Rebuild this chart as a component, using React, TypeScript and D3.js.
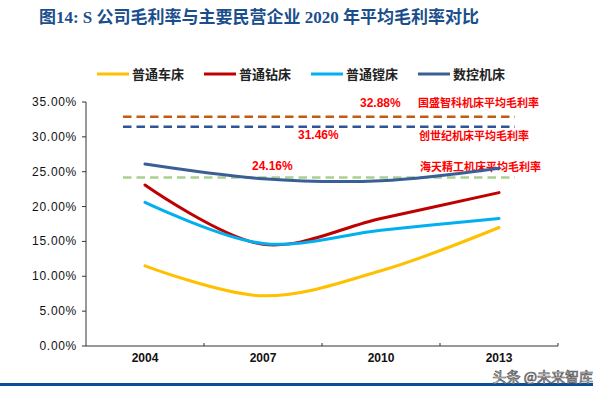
import React from 'react';
import * as d3 from 'd3';

const years = ['2004', '2007', '2010', '2013'];
const seriesNames = ['普通车床', '普通钻床', '普通镗床', '数控机床'];
const seriesColors = ['#FFC000', '#C00000', '#00B0F0', '#3A5F96'];
const lathe = [11.5, 7.2, 10.8, 17.0];
const drill = [23.1, 14.6, 18.3, 22.0];
const boring = [20.6, 14.7, 16.6, 18.3];
const cnc = [26.1, 24.0, 23.7, 25.5];
const seriesValues = [lathe, drill, boring, cnc];

const refValues = [32.88, 31.46, 24.16];
const refColors = ['#C55A11', '#2F5597', '#A9D18E'];
const refNames = ['国盛智科机床平均毛利率', '创世纪机床平均毛利率', '海天精工机床平均毛利率'];
const refValueLabels = ['32.88%', '31.46%', '24.16%'];
const yTicks = [0, 5, 10, 15, 20, 25, 30, 35];

export default function App() {
  const W = 606, H = 396;
  const x0 = 86, x1 = 558, yTop = 102, yBot = 346;
  const x = d3.scaleBand().domain(years).range([x0, x1]);
  const y = d3.scaleLinear().domain([0, 35]).range([yBot, yTop]);
  const cx = (yr: string) => (x(yr) as number) + x.bandwidth() / 2;
  const line = d3.line<number>()
    .x((_, i) => cx(years[i]))
    .y((v) => y(v))
    .curve(d3.curveCatmullRom.alpha(0.5));
  const fmt = (v: number) => v.toFixed(2) + '%';
  const refX0 = 123, refX1 = 515;
  const refLabelX = [360, 298, 252];
  const refLabelDy = [-10, 12, -8];
  const refNameX = [418, 419, 420];
  const refNameDy = [-10, 13, -7];
  const legendX = [97, 204, 311, 418];

  return (
    <svg width={W} height={H} style={{ position: 'absolute', left: 0, top: 0, background: '#fff' }}
      fontFamily="'Liberation Sans', Arial, sans-serif">
      <rect width={W} height={H} fill="#fff" />
      <text x={259} y={23} textAnchor="middle" fontSize={17} fontWeight="bold" fill="#1A4E8C"
        fontFamily="'Liberation Serif', 'Noto Sans CJK SC', serif">图14: S 公司毛利率与主要民营企业 2020 年平均毛利率对比</text>

      {seriesNames.map((n, i) => (
        <g key={n}>
          <line x1={legendX[i]} x2={legendX[i] + 32} y1={74} y2={74} stroke={seriesColors[i]} strokeWidth={3} />
          <text x={legendX[i] + 35} y={79} fontSize={13} fontWeight="bold" fill="#222"
            fontFamily="'Noto Sans CJK SC', sans-serif">{n}</text>
        </g>
      ))}

      {/* y axis */}
      <line x1={x0} x2={x0} y1={yTop} y2={yBot} stroke="#333" strokeWidth={1} />
      {yTicks.map((t) => (
        <g key={t}>
          <line x1={x0 - 4} x2={x0} y1={y(t)} y2={y(t)} stroke="#333" />
          <text x={x0 - 9} y={y(t) + 4} textAnchor="end" fontSize={12} fill="#111" letterSpacing={0.7}>{fmt(t)}</text>
        </g>
      ))}
      {/* x axis */}
      <line x1={x0} x2={x1} y1={yBot} y2={yBot} stroke="#333" strokeWidth={1} />
      {years.map((yr) => (
        <g key={yr}>
          <line x1={(x(yr) as number) + x.bandwidth()} x2={(x(yr) as number) + x.bandwidth()} y1={yBot} y2={yBot - 3} stroke="#333" />
          <text x={cx(yr)} y={362} textAnchor="middle" fontSize={12} fontWeight="bold" fill="#111">{yr}</text>
        </g>
      ))}

      {/* reference lines */}
      {refValues.map((v, i) => (
        <g key={i}>
          <line x1={refX0} x2={refX1} y1={y(v)} y2={y(v)} stroke={refColors[i]} strokeWidth={2.5} strokeDasharray="8.5,5" />
          <text x={refLabelX[i]} y={y(v) + refLabelDy[i]} fontSize={12} fontWeight="bold" fill="#FF0000">{refValueLabels[i]}</text>
          <text x={refNameX[i]} y={y(v) + refNameDy[i]} fontSize={11} fontWeight="bold" fill="#FF0000"
            fontFamily="'Noto Sans CJK SC', sans-serif">{refNames[i]}</text>
        </g>
      ))}

      {seriesValues.map((vals, i) => (
        <path key={i} d={line(vals) as string} fill="none" stroke={seriesColors[i]} strokeWidth={3} strokeLinecap="round" />
      ))}

      <rect x={0} y={383} width={593} height={3} fill="#0A4F96" />
      <text x={593} y={382} textAnchor="end" fontSize={14} fill="#f4f4f4" stroke="#555" strokeWidth={0.7}
        fontFamily="'Noto Sans CJK SC', sans-serif">头条 @未来智库</text>
    </svg>
  );
}
